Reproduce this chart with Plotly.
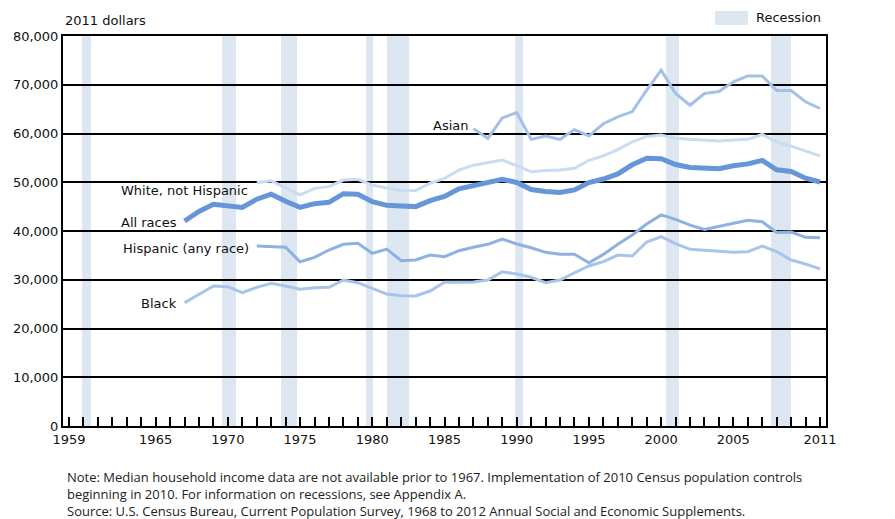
import plotly.graph_objects as go

# ---------------- data ----------------
years_all = list(range(1967, 2012))
all_races = [42056, 44000, 45466, 45146, 44836, 46523, 47554, 46100, 44851, 45612,
             45883, 47659, 47527, 46024, 45260, 45139, 45001, 46215, 47079, 48656,
             49358, 49837, 50624, 49950, 48516, 48117, 47884, 48418, 49935, 50661,
             51704, 53582, 54932, 54841, 53646, 53019, 52973, 52788, 53371, 53768,
             54489, 52546, 52195, 50831, 50054]

years_black = list(range(1967, 2012))
black = [25290, 27000, 28710, 28570, 27340, 28450, 29260, 28710, 28040, 28370,
         28450, 29950, 29400, 28240, 27070, 26730, 26660, 27690, 29470, 29500,
         29530, 29950, 31650, 31180, 30500, 29400, 29950, 31440, 32820, 33700,
         35070, 34870, 37740, 38830, 37400, 36240, 36100, 35830, 35620, 35750,
         36920, 35750, 34050, 33230, 32229]

years_white = list(range(1972, 2012))
white_nh = [49900, 50300, 48850, 47400, 48750, 49100, 50450, 50600, 49400, 48750,
            48250, 48300, 49800, 50800, 52500, 53500, 54100, 54550, 53400, 52150,
            52400, 52500, 52850, 54500, 55400, 56700, 58300, 59400, 59700, 59000,
            58800, 58600, 58450, 58650, 58800, 59800, 58300, 57400, 56400, 55412]

years_hisp = list(range(1972, 2012))
hispanic = [36900, 36800, 36650, 33700, 34600, 36100, 37270, 37470, 35420, 36300,
            33900, 34050, 35070, 34720, 35960, 36650, 37270, 38350, 37330, 36570,
            35620, 35220, 35220, 33500, 35200, 37270, 39180, 41430, 43300, 42400,
            41200, 40300, 40900, 41500, 42200, 41900, 39700, 39800, 38700, 38624]

years_asian = list(range(1987, 2012))
asian = [61000, 59000, 63200, 64300, 58800, 59500, 58800, 60800, 59500, 62000,
         63400, 64500, 68900, 73000, 68200, 65800, 68200, 68600, 70600, 71800,
         71800, 68800, 68800, 66500, 65129]

recession_start = [1959.90, 1969.60, 1973.68, 1979.57, 1981.02, 1989.89, 2000.34, 2007.61]
recession_end = [1960.52, 1970.57, 1974.79, 1980.05, 1982.55, 1990.44, 2001.24, 2008.99]

tick_years = list(range(1959, 2012))
labeled_years = [1959, 1965, 1970, 1975, 1980, 1985, 1990, 1995, 2000, 2005, 2011]
y_ticks = list(range(0, 80001, 10000))

end_labels = ["$65,129", "$55,412", "$50,054", "$38,624", "$32,229"]
end_label_y = [64300, 54970, 49430, 38350, 31590]

# ---------------- styling ----------------
FONT = "DejaVu Sans"
BAND = "#dde7f2"

fig = go.Figure()

series = [
    ("White, not Hispanic", years_white, white_nh, "#c9dcf1", 3),
    ("Asian", years_asian, asian, "#a4c0e8", 3),
    ("Black", years_black, black, "#a8c4ea", 3),
    ("Hispanic (any race)", years_hisp, hispanic, "#8eb1e2", 3),
    ("All races", years_all, all_races, "#6696d8", 5),
]
for name, xs, ys, col, w in series:
    fig.add_trace(go.Scatter(x=xs, y=ys, mode="lines", name=name,
                             line=dict(color=col, width=w), showlegend=False,
                             hoverinfo="skip"))

for s, e in zip(recession_start, recession_end):
    fig.add_shape(type="rect", xref="x", yref="paper", x0=s, x1=e, y0=0, y1=1,
                  fillcolor=BAND, line=dict(width=0), layer="below")

# legend swatch
fig.add_shape(type="rect", xref="paper", yref="paper", x0=0.8545, x1=0.8978,
              y0=1.0282, y1=1.0641, fillcolor=BAND, line=dict(width=0))
fig.add_annotation(xref="paper", yref="paper", x=0.9056, y=1.0462, text="Recession",
                   showarrow=False, xanchor="left", yanchor="middle",
                   font=dict(family=FONT, size=13, color="#111"))

fig.add_annotation(xref="paper", yref="paper", x=0.0, y=1.041, text="2011 dollars",
                   showarrow=False, xanchor="left", yanchor="middle",
                   font=dict(family=FONT, size=13, color="#111"))

# series labels
lab = [
    ("Asian", 1986.77, 61590, "right"),
    ("White, not Hispanic", 1962.46, 48400, "left"),
    ("All races", 1962.46, 41700, "left"),
    ("Hispanic (any race)", 1962.6, 36510, "left"),
    ("Black", 1966.62, 25230, "right"),
]
for t, x, y, anc in lab:
    fig.add_annotation(x=x, y=y, xref="x", yref="y", text=t, showarrow=False,
                       xanchor=anc, yanchor="middle",
                       font=dict(family=FONT, size=13, color="#111"))

for t, y in zip(end_labels, end_label_y):
    fig.add_annotation(x=2012.32, y=y, xref="x", yref="y", text=t, showarrow=False,
                       xanchor="left", yanchor="middle",
                       font=dict(family=FONT, size=13, color="#111"))

NOTE_FONT = dict(family="Open Sans", size=13, color="#222")
note_text = ("Note: Median household income data are not available prior to 1967. "
             "Implementation of 2010 Census population controls<br>"
             "beginning in 2010. For information on recessions, see Appendix A.")
source_text = ("Source: U.S. Census Bureau, Current Population Survey, 1968 to 2012 "
               "Annual Social and Economic Supplements.")
fig.add_annotation(xref="paper", yref="paper", x=0.0026, y=-0.1526, text=note_text,
                   showarrow=False, xanchor="left", yanchor="middle", align="left",
                   font=NOTE_FONT)
fig.add_annotation(xref="paper", yref="paper", x=0.0026, y=-0.2180, text=source_text,
                   showarrow=False, xanchor="left", yanchor="middle", align="left",
                   font=NOTE_FONT)

ticktext = [str(y) if y in labeled_years else "" for y in tick_years]

fig.update_layout(
    width=895, height=519,
    margin=dict(l=63, r=69, t=36, b=93),
    plot_bgcolor="white", paper_bgcolor="white",
    font=dict(family=FONT, size=13, color="#111"),
    xaxis=dict(range=[1958.585, 2011.415], tickmode="array", tickvals=tick_years,
               ticktext=ticktext, ticks="inside", ticklen=9, tickwidth=1.5,
               tickcolor="black", showgrid=False, showline=True, linecolor="black",
               linewidth=2, mirror=True, zeroline=False, automargin=False,
               tickfont=dict(family=FONT, size=13, color="#111")),
    yaxis=dict(range=[0, 80000], tickmode="array", tickvals=y_ticks,
               ticktext=[f"{v:,}" for v in y_ticks], showgrid=True,
               gridcolor="black", gridwidth=1.5, showline=True, linecolor="black",
               linewidth=2, mirror=True, zeroline=False, ticks="", automargin=False,
               tickfont=dict(family=FONT, size=13, color="#111")),
)

fig.write_html("out.html", config={"displayModeBar": False},
               post_script="document.body.style.margin='0';document.body.style.overflow='hidden';")
